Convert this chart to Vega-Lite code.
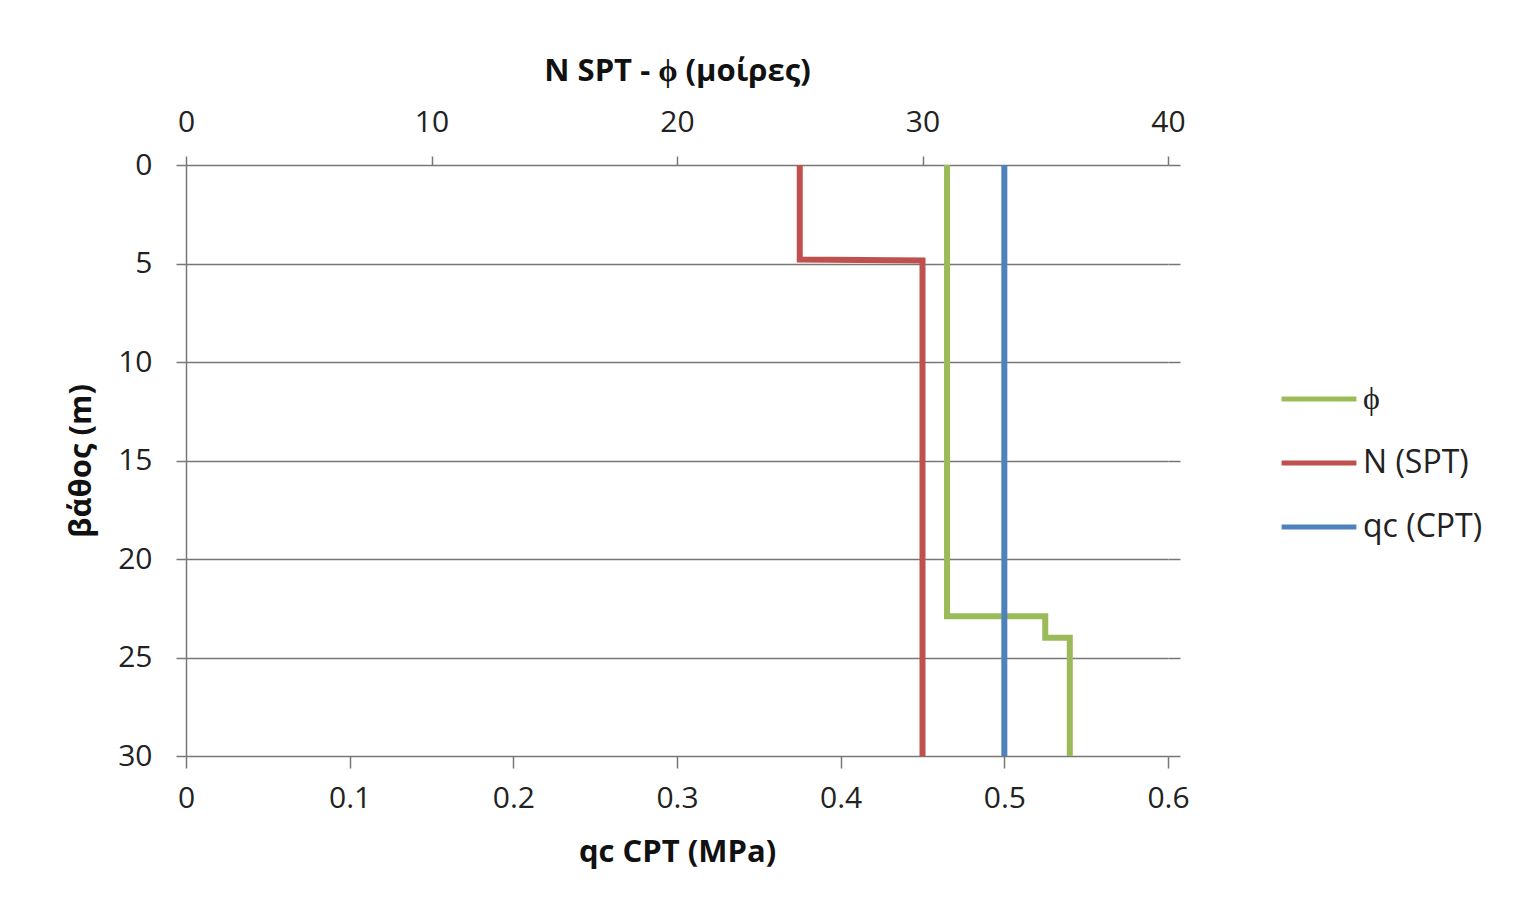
{
  "$schema": "https://vega.github.io/schema/vega-lite/v6.json",
  "autosize": {"type": "none"},
  "width": 982,
  "height": 591,
  "padding": {"left": 186, "top": 165, "right": 366, "bottom": 149},
  "background": "white",
  "config": {
    "font": "Open Sans",
    "view": {"stroke": null},
    "axis": {
      "labelFont": "Open Sans",
      "titleFont": "Open Sans",
      "labelFontSize": 30,
      "labelColor": "#222",
      "labelFlush": false,
      "titleFontSize": 31,
      "titleFontWeight": "bold",
      "titleColor": "#111",
      "tickColor": "#777",
      "domainColor": "#777",
      "gridColor": "#777",
      "gridWidth": 1.5,
      "tickWidth": 1.5,
      "domainWidth": 1.5
    }
  },
  "data": {
    "values": [
      {"series": "ϕ", "depth": 0, "value": 31, "ord": 1},
      {"series": "ϕ", "depth": 22.9, "value": 31, "ord": 2},
      {"series": "ϕ", "depth": 22.9, "value": 35, "ord": 3},
      {"series": "ϕ", "depth": 24, "value": 35, "ord": 4},
      {"series": "ϕ", "depth": 24, "value": 36, "ord": 5},
      {"series": "ϕ", "depth": 30, "value": 36, "ord": 6},
      {"series": "N (SPT)", "depth": 0, "value": 25, "ord": 1},
      {"series": "N (SPT)", "depth": 4.8, "value": 25, "ord": 2},
      {"series": "N (SPT)", "depth": 4.85, "value": 30, "ord": 3},
      {"series": "N (SPT)", "depth": 30, "value": 30, "ord": 4},
      {"series": "qc (CPT)", "depth": 0, "value": 0.5, "ord": 1},
      {"series": "qc (CPT)", "depth": 30, "value": 0.5, "ord": 2}
    ]
  },
  "layer": [
    {
      "transform": [{"filter": "datum.series !== 'qc (CPT)'"}],
      "mark": {"type": "line", "strokeWidth": 6, "strokeJoin": "miter"},
      "encoding": {
        "x": {
          "field": "value", "type": "quantitative",
          "scale": {"domain": [0, 40], "nice": false, "zero": false},
          "axis": {
            "orient": "top", "title": "N SPT - ϕ (μοίρες)", "values": [0, 10, 20, 30, 40],
            "grid": false, "domain": false, "tickSize": 9, "labelPadding": 19, "titlePadding": 20
          }
        },
        "y": {
          "field": "depth", "type": "quantitative",
          "scale": {"domain": [0, 30], "reverse": true, "nice": false},
          "axis": {
            "orient": "left", "title": "βάθος (m)", "values": [0, 5, 10, 15, 20, 25, 30],
            "grid": true, "domain": true, "tickSize": 10, "labelPadding": 24, "titlePadding": 20
          }
        },
        "order": {"field": "ord", "type": "quantitative"},
        "color": {
          "field": "series", "type": "nominal",
          "scale": {"domain": ["ϕ", "N (SPT)", "qc (CPT)"], "range": ["#9BBB59", "#C0504D", "#4F81BD"]},
          "legend": {
            "title": null, "orient": "none", "legendX": 1093, "legendY": 194,
            "symbolType": "stroke", "symbolSize": 5600, "symbolStrokeWidth": 5,
            "labelFontSize": 32, "labelFont": "Open Sans", "labelColor": "#222",
            "rowPadding": 8, "labelOffset": 4
          }
        }
      }
    },
    {
      "transform": [{"filter": "datum.series === 'qc (CPT)'"}],
      "mark": {"type": "line", "strokeWidth": 6},
      "encoding": {
        "x": {
          "field": "value", "type": "quantitative",
          "scale": {"domain": [0, 0.6], "nice": false, "zero": false},
          "axis": {
            "orient": "bottom", "title": "qc CPT (MPa)", "values": [0, 0.1, 0.2, 0.3, 0.4, 0.5, 0.6],
            "format": "~g", "grid": false, "domain": false, "tickSize": 12, "labelPadding": 15, "titlePadding": 24
          }
        },
        "y": {
          "field": "depth", "type": "quantitative",
          "scale": {"domain": [0, 30], "reverse": true, "nice": false},
          "axis": {
            "orient": "right", "title": null, "values": [0, 5, 10, 15, 20, 25, 30],
            "labels": false, "grid": false, "domain": false, "tickSize": 12
          }
        },
        "order": {"field": "ord", "type": "quantitative"},
        "color": {"field": "series", "type": "nominal"}
      }
    }
  ],
  "resolve": {"scale": {"x": "independent", "y": "independent"}, "axis": {"x": "independent", "y": "independent"}}
}
